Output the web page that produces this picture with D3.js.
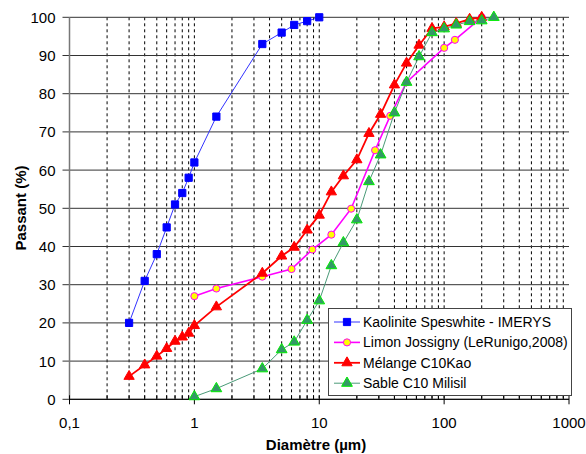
<!DOCTYPE html>
<html>
<head>
<meta charset="utf-8">
<script src="https://cdn.jsdelivr.net/npm/d3@7"></script>
<style>
  body { margin: 0; background: #fff; }
  text { font-family: "Liberation Sans", Arial, sans-serif; fill: #000; }
</style>
</head>
<body>
<svg width="586" height="454"></svg>
<script>
// data (diameter in µm, passing in %)
const kaoDiam = [0.3, 0.4, 0.5, 0.6, 0.7, 0.8, 0.9, 1, 1.5, 3.5, 5, 6.3, 8, 10];
const kaoPass = [20, 31, 38, 45, 51, 54, 58, 62, 74, 93, 96, 98, 99, 100];

const limDiam = [1, 1.5, 3.5, 6, 8.8, 12.5, 18, 28, 37, 50, 100, 122, 200];
const limPass = [27, 29, 32.1, 34.1, 39.2, 43.1, 49.9, 65.2, 74.2, 83, 92, 94.1, 100];

const melDiam = [0.3, 0.4, 0.5, 0.6, 0.7, 0.8, 0.9, 1, 1.5, 3.5, 5, 6.3, 8, 10, 12.5, 15.6, 20, 25, 31, 40, 50, 63, 80, 100, 125, 160, 200];
const melPass = [6, 9, 11.3, 13.3, 15.2, 16.3, 17.3, 19.3, 24.2, 33, 37.5, 39.8, 44.3, 48.2, 54.3, 58.5, 62.7, 69.6, 74.6, 82.3, 88, 92.7, 97.1, 97.5, 98.4, 99.5, 100];

const sabDiam = [1, 1.5, 3.5, 5, 6.3, 8, 10, 12.5, 15.6, 20, 25, 31, 40, 50, 63, 80, 100, 125, 160, 200, 250];
const sabPass = [0.7, 2.8, 8, 13, 15, 20.7, 25.8, 35, 41, 47, 57, 64, 75, 83, 89.7, 96, 97, 98, 98.9, 99.1, 100];

const seriesNames = ["Kaolinite Speswhite - IMERYS", "Limon Jossigny (LeRunigo,2008)", "Mélange C10Kao", "Sable C10 Milisil"];

const xMajor = [0.1, 1, 10, 100, 1000];
const xMajorLabels = ["0,1", "1", "10", "100", "1000"];
const yTicks = [0, 10, 20, 30, 40, 50, 60, 70, 80, 90, 100];

const series = [
  { name: seriesNames[0], xs: kaoDiam, ys: kaoPass, line: "#3333ff", lw: 1, shape: d3.symbolSquare, size: 52, fill: "#0000ff", stroke: "#0000ff" },
  { name: seriesNames[1], xs: limDiam, ys: limPass, line: "#ff00ff", lw: 1.6, shape: d3.symbolCircle, size: 40, fill: "#ffff00", stroke: "#ff00ff" },
  { name: seriesNames[2], xs: melDiam, ys: melPass, line: "#ff0000", lw: 1.8, shape: d3.symbolTriangle, size: 46, fill: "#ff0000", stroke: "#ff0000" },
  { name: seriesNames[3], xs: sabDiam, ys: sabPass, line: "#4a9a78", lw: 1, shape: d3.symbolTriangle, size: 50, fill: "#339966", stroke: "#00ee00" }
];

const svg = d3.select("svg");

const x = d3.scaleLog().domain([0.1, 1000]).range([69.5, 569]);
const y = d3.scaleLinear().domain([0, 100]).range([399.3, 17.3]);

// minor positions 2..9 of each decade
const xMinor = [];
[0.1, 1, 10, 100].forEach(d => { for (let k = 2; k <= 9; k++) xMinor.push(d * k); });

// vertical dotted grid
svg.append("g")
  .selectAll("line")
  .data(xMinor.concat([1, 10, 100]))
  .enter().append("line")
  .attr("x1", d => x(d)).attr("x2", d => x(d))
  .attr("y1", y(100)).attr("y2", y(0))
  .attr("stroke", "#000")
  .attr("stroke-width", 1)
  .attr("stroke-dasharray", "3,3");

// horizontal grid
svg.append("g")
  .selectAll("line")
  .data(yTicks)
  .enter().append("line")
  .attr("x1", x(0.1) - 7).attr("x2", x(1000))
  .attr("y1", d => y(d)).attr("y2", d => y(d))
  .attr("stroke", "#333")
  .attr("stroke-width", 1);

// axes lines
svg.append("line")
  .attr("x1", x(0.1)).attr("x2", x(0.1))
  .attr("y1", y(100)).attr("y2", y(0))
  .attr("stroke", "#777").attr("stroke-width", 1.5);
svg.append("line")
  .attr("x1", x(0.1)).attr("x2", x(1000))
  .attr("y1", y(0)).attr("y2", y(0))
  .attr("stroke", "#000").attr("stroke-width", 1);

// x ticks
svg.append("g").selectAll("line").data(xMajor).enter().append("line")
  .attr("x1", d => x(d)).attr("x2", d => x(d))
  .attr("y1", y(0) - 4).attr("y2", y(0) + 5)
  .attr("stroke", "#000");
svg.append("g").selectAll("line").data(xMinor).enter().append("line")
  .attr("x1", d => x(d)).attr("x2", d => x(d))
  .attr("y1", y(0) - 4).attr("y2", y(0))
  .attr("stroke", "#000");

// tick labels
svg.append("g").selectAll("text").data(xMajor).enter().append("text")
  .attr("x", d => x(d)).attr("y", y(0) + 29)
  .attr("text-anchor", "middle")
  .style("font-size", "15px")
  .text((d, i) => xMajorLabels[i]);

svg.append("g").selectAll("text").data(yTicks).enter().append("text")
  .attr("x", x(0.1) - 14).attr("y", d => y(d))
  .attr("dy", "0.36em")
  .attr("text-anchor", "end")
  .style("font-size", "15px")
  .text(d => d);

// axis titles
svg.append("text")
  .attr("x", 316).attr("y", 450)
  .attr("text-anchor", "middle")
  .style("font-size", "15px").style("font-weight", "bold")
  .text("Diamètre (µm)");
svg.append("text")
  .attr("transform", "translate(26,208) rotate(-90)")
  .attr("text-anchor", "middle")
  .style("font-size", "15px").style("font-weight", "bold")
  .text("Passant (%)");

// series
const line = d3.line().x(d => x(d[0])).y(d => y(d[1]));
series.forEach(s => {
  const pts = s.xs.map((v, i) => [v, s.ys[i]]);
  svg.append("path")
    .datum(pts)
    .attr("d", line)
    .attr("fill", "none")
    .attr("stroke", s.line)
    .attr("stroke-width", s.lw);
  svg.append("g").selectAll("path").data(pts).enter().append("path")
    .attr("transform", d => `translate(${x(d[0])},${y(d[1])})`)
    .attr("d", d3.symbol().type(s.shape).size(s.size))
    .attr("fill", s.fill)
    .attr("stroke", s.stroke)
    .attr("stroke-width", 1);
});

// legend
const legend = svg.append("g").attr("transform", "translate(328,308)");
legend.append("rect")
  .attr("x", 0.5).attr("y", 0.5)
  .attr("width", 243).attr("height", 87)
  .attr("fill", "#fff")
  .attr("stroke", "#444");
series.forEach((s, i) => {
  const row = legend.append("g").attr("transform", `translate(0,${14 + i * 20.4})`);
  row.append("line")
    .attr("x1", 6).attr("x2", 32)
    .attr("stroke", s.line).attr("stroke-width", s.lw);
  row.append("path")
    .attr("transform", "translate(19,0)")
    .attr("d", d3.symbol().type(s.shape).size(s.size))
    .attr("fill", s.fill).attr("stroke", s.stroke);
  row.append("text")
    .attr("x", 35).attr("dy", "0.36em")
    .style("font-size", "14px")
    .text(s.name);
});
</script>
</body>
</html>
